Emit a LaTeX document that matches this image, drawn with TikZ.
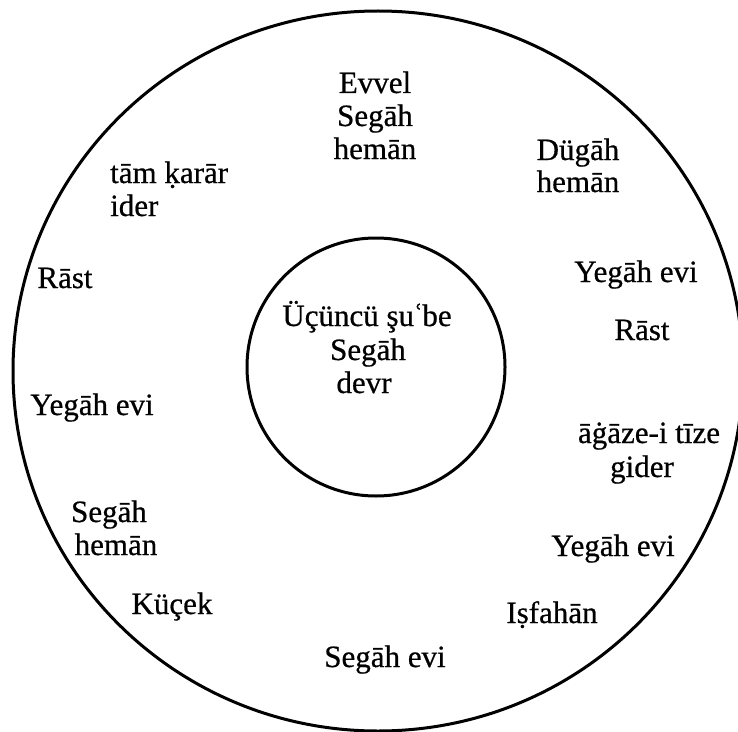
\documentclass[tikz,border=0pt]{standalone}
\usepackage{fontspec}
\setmainfont{Liberation Serif}[FakeBold=0.6]
\begin{document}
\begin{tikzpicture}[x=1bp,y=-1bp,
  lbl/.style={inner sep=0pt, anchor=base, font=\fontsize{31bp}{33bp}\selectfont},
  ring/.style={line width=3bp}]
\useasboundingbox (0,0) rectangle (738,732);
\draw[ring] (378,371) ellipse [x radius=365, y radius=360];
\draw[ring] (376,367) circle [radius=129];
% top
\node[lbl] (ev1) at (375,93) {Evvel};
\node[lbl] (ev2) at (375,126) {Segāh};
\node[lbl] (ev3) at (375,159) {hemān};
\node[lbl] (dg1) at (578,160) {Dügāh};
\node[lbl] (dg2) at (578,192) {hemān};
\node[lbl,anchor=base west] (tk1) at (110,183) {tām ḳarār};
\node[lbl,anchor=base west] (tk2) at (110,216) {ider};
\node[lbl] (rl) at (65,288) {Rāst};
\node[lbl] (ye1) at (636,282) {Yegāh evi};
\node[lbl] (rr) at (642,340) {Rāst};
% centre
\node[lbl] (in1) at (367,326) {Üçüncü şu\kern-1bpʿ\kern-1bpbe};
\node[lbl] (in2) at (368,360) {Segāh};
\node[lbl] (in3) at (364,393) {devr};
% right
\node[lbl] (ag1) at (649,443) {āġāze-i tīze};
\node[lbl] (ag2) at (642,477) {gider};
% left
\node[lbl] (ye2) at (92,415) {Yegāh evi};
\node[lbl] (sh1) at (109,522) {Segāh};
\node[lbl] (sh2) at (116,555) {hemān};
% bottom
\node[lbl] (ye3) at (613,556) {Yegāh evi};
\node[lbl] (kc) at (172,614) {Küçek};
\node[lbl] (is) at (552,623) {Iṣfahān};
\node[lbl] (se) at (385,667) {Segāh evi};
\end{tikzpicture}
\end{document}
